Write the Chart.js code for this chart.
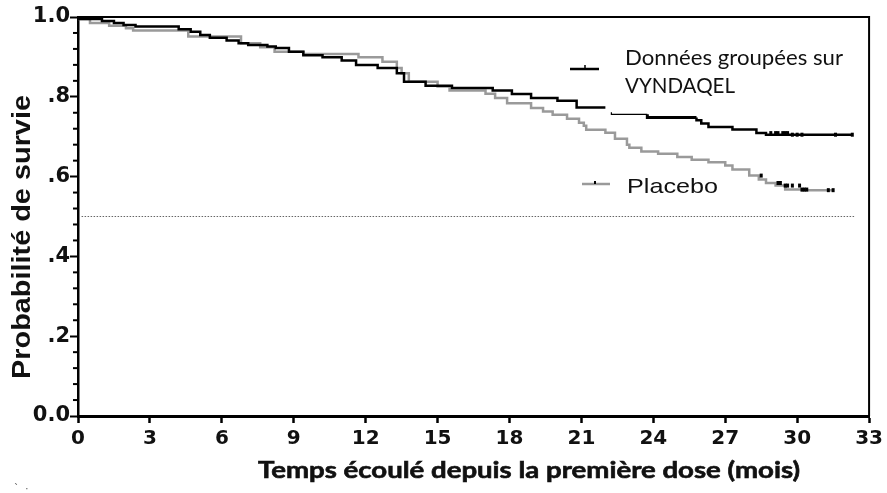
<!DOCTYPE html>
<html><head><meta charset="utf-8">
<script src="https://cdn.jsdelivr.net/npm/chart.js@4.4.1/dist/chart.umd.min.js"></script>
<style>html,body{margin:0;padding:0;background:#fff}#wrap{width:887px;height:493px}</style>
</head><body><div id="wrap"><canvas id="c" width="887" height="493"></canvas></div>
<script>
// ---- data ----
const xTicks = [0, 3, 6, 9, 12, 15, 18, 21, 24, 27, 30, 33];
const yTickLabels = ['0.0', '.2', '.4', '.6', '.8', '1.0'];
const vyndaqelTime = [0, 1.0, 1.5, 1.9, 2.4, 4.2, 4.7, 5.1, 5.5, 6.2, 6.7, 7.1, 7.9, 8.25, 8.8, 9.4, 10.2, 11.0, 11.6, 12.5, 13.3, 13.6, 14.5, 15.6, 17.3, 18.1, 18.9, 20.0, 20.8, 21.25, 22.0, 22.05, 22.25, 23.75, 25.8, 26.0, 26.3, 27.3, 28.3, 28.7, 29.8, 32.3];
const vyndaqelSurv = [1.0, 0.995, 0.99, 0.985, 0.98, 0.976, 0.969, 0.963, 0.955, 0.948, 0.941, 0.934, 0.93, 0.926, 0.922, 0.913, 0.904, 0.899, 0.891, 0.88, 0.872, 0.859, 0.838, 0.828, 0.822, 0.816, 0.807, 0.797, 0.79, 0.773, 0.773, null, 0.761, 0.756, 0.748, 0.741, 0.733, 0.724, 0.718, 0.709, 0.705, 0.705];
const placeboTime = [0, 0.5, 1.3, 2.0, 2.3, 4.6, 6.8, 7.6, 8.2, 9.4, 11.7, 12.7, 13.3, 13.5, 13.8, 15.0, 15.5, 17.0, 17.4, 17.9, 18.9, 19.4, 19.8, 20.4, 20.9, 21.1, 21.2, 22.0, 22.4, 22.9, 23.0, 23.5, 24.2, 25.0, 25.6, 26.3, 27.0, 27.3, 28.0, 28.4, 28.7, 29.1, 29.5, 30.2, 30.8, 31.5];
const placeboSurv = [1.0, 0.995, 0.985, 0.978, 0.972, 0.966, 0.951, 0.934, 0.924, 0.913, 0.9075, 0.899, 0.888, 0.872, 0.859, 0.838, 0.826, 0.816, 0.8075, 0.797, 0.784, 0.772, 0.763, 0.755, 0.745, 0.735, 0.7275, 0.7175, 0.71, 0.695, 0.68, 0.672, 0.663, 0.657, 0.649, 0.6425, 0.636, 0.628, 0.6175, 0.6025, 0.5925, 0.584, 0.5775, 0.5675, 0.566, 0.566];
const vyndaqelCensor = [28.9, 29.1, 29.2, 29.4, 29.5, 29.6, 29.8, 30.0, 30.2, 31.6, 32.3];
const placeboCensor = [28.5, 29.2, 29.3, 29.5, 29.6, 29.8, 30.1, 30.2, 30.3, 30.4, 31.3, 31.5];
const medianLineX = [0.15, 32.4];
const medianLineY = [0.5, 0.5];
const legendVyndaqel = ['Données groupées sur', 'VYNDAQEL'];
const legendPlacebo = 'Placebo';
const xTitle = 'Temps écoulé depuis la première dose (mois)';
const yTitle = 'Probabilité de survie';

// ---- helpers ----
const pts = (xs, ys) => xs.map((x, i) => ({x: x, y: ys[i]}));
function stepValue(xs, ys, t) {
  let v = null;
  for (let i = 0; i < xs.length; i++) { if (xs[i] <= t && ys[i] !== null) v = ys[i]; }
  return v;
}
const censorPts = (c, xs, ys) => c.map(t => ({x: t, y: stepValue(xs, ys, t)}));

function stretchedText(ctx, text, x, y, font, opts) {
  opts = opts || {};
  ctx.save();
  ctx.font = font;
  ctx.fillStyle = opts.color || '#000';
  ctx.textBaseline = opts.baseline || 'alphabetic';
  const w = ctx.measureText(text).width;
  const sx = opts.width ? opts.width / w : (opts.sx || 1);
  ctx.translate(x, y);
  if (opts.rotate) ctx.rotate(opts.rotate);
  ctx.scale(sx, 1);
  ctx.textAlign = opts.align || 'left';
  ctx.fillText(text, 0, 0);
  if (opts.stroke) { ctx.strokeStyle = opts.color || '#000'; ctx.lineWidth = opts.stroke; ctx.strokeText(text, 0, 0); }
  ctx.restore();
}

const decor = {
  id: 'decor',
  afterDraw(chart) {
    const ctx = chart.ctx, a = chart.chartArea;
    const ys = chart.scales.y;
    ctx.save();
    ctx.strokeStyle = '#000';
    ctx.lineWidth = 2;
    ctx.beginPath();
    ctx.moveTo(a.left, a.top); ctx.lineTo(a.right, a.top); ctx.lineTo(a.right, a.bottom);
    ctx.stroke();
    ys.ticks.forEach(t => {
      const v = Math.round(t.value * 100);
      if (v % 20 !== 0) {
        const py = ys.getPixelForValue(t.value);
        ctx.beginPath(); ctx.moveTo(a.left - 5, py); ctx.lineTo(a.left, py); ctx.stroke();
      }
    });
    ctx.restore();
    // legend samples
    ctx.save();
    ctx.lineWidth = 2.5;
    ctx.strokeStyle = '#000';
    ctx.beginPath(); ctx.moveTo(570, 69); ctx.lineTo(599, 69); ctx.stroke();
    ctx.lineWidth = 1.5;
    ctx.beginPath(); ctx.moveTo(585, 65); ctx.lineTo(585, 69); ctx.stroke();
    ctx.strokeStyle = '#9a9a9a'; ctx.lineWidth = 2.5;
    ctx.beginPath(); ctx.moveTo(582, 184); ctx.lineTo(610, 184); ctx.stroke();
    ctx.fillStyle = '#000';
    ctx.fillRect(594, 181, 2, 3);
    ctx.restore();
    // texts
    stretchedText(ctx, legendVyndaqel[0], 625, 65, '21px Lato', {width: 218, color: '#111'});
    stretchedText(ctx, legendVyndaqel[1], 625, 93, '21px Lato', {width: 110, color: '#111'});
    stretchedText(ctx, legendPlacebo, 627, 193, '21px "Liberation Sans"', {width: 91, color: '#111'});
    stretchedText(ctx, xTitle, 258, 478, 'bold 22px Lato', {width: 542, color: '#111', stroke: 0.6});
    stretchedText(ctx, yTitle, 30, 379, 'bold 25px "Liberation Sans"', {width: 284, rotate: -Math.PI / 2, color: '#111'});
    stretchedText(ctx, '`  \u00b7', 14, 492, '10px "DejaVu Sans"', {color: '#555'});
  }
};

new Chart(document.getElementById('c'), {
  type: 'line',
  data: {
    datasets: [
      {label: 'VYNDAQEL', data: pts(vyndaqelTime, vyndaqelSurv), borderColor: '#000', borderWidth: 2.5,
       stepped: 'after', pointRadius: 0, spanGaps: false, order: 1,
       segment: {borderWidth: c => (c.p0.parsed.x >= 22.2 && c.p0.parsed.x < 23.7) ? 1.2 : (c.p0.parsed.x >= 23.7 && c.p0.parsed.x < 25.7 ? 3 : 2.5)}},
      {label: 'Placebo', data: pts(placeboTime, placeboSurv), borderColor: '#9a9a9a', borderWidth: 2.5,
       stepped: 'after', pointRadius: 0, order: 2},
      {label: 'censor V', data: censorPts(vyndaqelCensor, vyndaqelTime, vyndaqelSurv), showLine: false,
       pointStyle: 'line', rotation: 90, pointRadius: 2, borderColor: '#000', borderWidth: 3, order: 0},
      {label: 'censor P', data: censorPts(placeboCensor, placeboTime, placeboSurv), showLine: false,
       pointStyle: 'line', rotation: 90, pointRadius: 2, borderColor: '#000', borderWidth: 3, order: 0},
      {label: 'median', data: pts(medianLineX, medianLineY), borderColor: '#666', borderWidth: 1,
       borderDash: [1.5, 1.5], pointRadius: 0, order: 3}
    ]
  },
  options: {
    responsive: false, animation: false, devicePixelRatio: 1,
    layout: {padding: {top: 17, right: 16, left: 0, bottom: 0}},
    plugins: {legend: {display: false}, tooltip: {enabled: false}},
    scales: {
      x: {
        type: 'linear', min: 0, max: 33,
        afterBuildTicks: s => { s.ticks = xTicks.map(v => ({value: v})); },
        afterFit: s => { s.height = 77; },
        grid: {drawOnChartArea: false, drawTicks: true, tickLength: 7, tickWidth: 2.5, tickColor: '#000'},
        border: {display: true, color: '#000', width: 3},
        ticks: {color: '#111', padding: 4, maxRotation: 0, autoSkip: false,
                font: {family: '"DejaVu Sans"', weight: 'bold', size: 20}}
      },
      y: {
        type: 'linear', min: 0, max: 1,
        afterBuildTicks: s => { const t = []; for (let i = 0; i <= 25; i++) t.push({value: i / 25}); s.ticks = t; },
        afterFit: s => { s.width = 78; },
        grid: {drawOnChartArea: false, drawTicks: true, tickLength: 8, tickWidth: 2,
               tickColor: c => (Math.round(c.tick.value * 100) % 20 === 0) ? '#000' : 'rgba(0,0,0,0)'},
        border: {display: true, color: '#000', width: 2.5},
        ticks: {color: '#111', padding: 0, autoSkip: false,
                font: {family: '"DejaVu Sans"', weight: 'bold', size: 21},
                callback: v => { const k = Math.round(v * 100); return k % 20 === 0 ? yTickLabels[k / 20] : ''; }}
      }
    }
  },
  plugins: [decor]
});
</script></body></html>
